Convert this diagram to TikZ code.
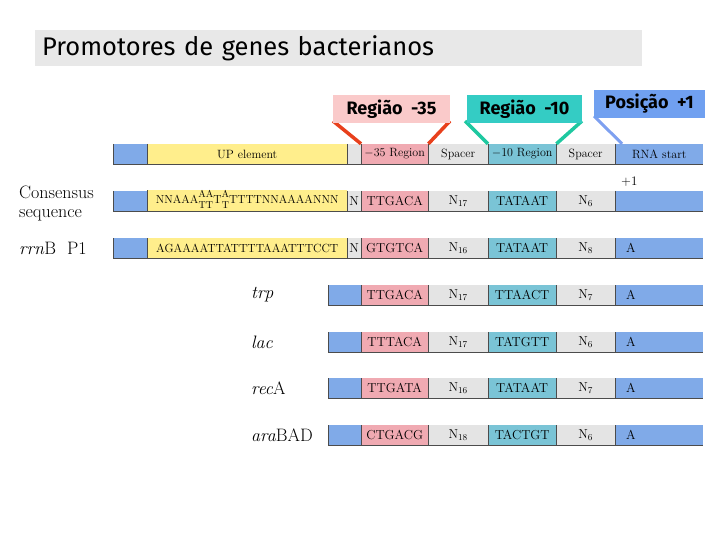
\documentclass[tikz,border=0pt]{standalone}
\usepackage{fontspec}
\newfontfamily\comicfont{Fira Sans}
\usetikzlibrary{positioning}
\definecolor{segblue}{RGB}{128,170,232}
\definecolor{segyellow}{RGB}{255,238,140}
\definecolor{segpink}{RGB}{240,170,178}
\definecolor{seggrey}{RGB}{228,228,228}
\definecolor{segteal}{RGB}{122,196,214}
\definecolor{boxpink}{RGB}{250,202,202}
\definecolor{boxteal}{RGB}{52,204,196}
\definecolor{boxblue}{RGB}{112,160,240}
\definecolor{linered}{RGB}{232,64,28}
\definecolor{lineteal}{RGB}{30,200,160}
\definecolor{lineblue}{RGB}{126,160,240}
\definecolor{titlegrey}{RGB}{232,232,232}
\newcommand{\stk}[2]{{\fontsize{10}{10.5}\selectfont\begin{tabular}[c]{@{}c@{}}#1\\#2\end{tabular}}}
\tikzset{
  seg/.style    = {rectangle, inner sep=0, minimum height=20pt, anchor=west, font=\fontsize{13}{14}\selectfont,
                   path picture={\draw[black!70, line width=0.6pt] (path picture bounding box.north west) -- (path picture bounding box.south west);}},
  sb/.style     = {seg, fill=segblue},  sy/.style = {seg, fill=segyellow}, sp/.style = {seg, fill=segpink},
  sg/.style     = {seg, fill=seggrey},  st/.style = {seg, fill=segteal},
  sa/.style     = {sb, text width=88pt, align=left},
  hd/.style     = {font=\fontsize{12}{13}\selectfont},
  base/.style   = {draw=black!70, line width=1pt},
  callout/.style= {rectangle, inner sep=0, minimum height=28pt, font=\comicfont\bfseries\fontsize{18}{20}\selectfont},
  lbl/.style    = {anchor=west, inner sep=0, font=\fontsize{18}{19}\selectfont, align=left},
  cline/.style  = {line width=3.5pt}
}
\begin{document}
\begin{tikzpicture}[x=1pt, y=-1pt]
  \useasboundingbox (0,0) rectangle (720,540);
  \node[fill=titlegrey, minimum width=607pt, minimum height=36pt, text width=593pt, inner xsep=7pt, inner ysep=0, align=left,
        font=\comicfont\fontsize{25.5}{27}\selectfont] (title) at (338.5,48) {Promotores de genes bacterianos};

  % header row
  \node[sb, minimum width=34pt] (hBlue) at (113,154) {};
  \node[sy, hd, minimum width=200pt] (hUP) at (147,154) {UP element};
  \node[sg, minimum width=14pt] (hN) at (347,154) {};
  \node[sp, hd, minimum width=67pt] (h35) at (361,154) {$-$35 Region};
  \node[sg, hd, minimum width=60pt] (hSp1) at (428,154) {Spacer};
  \node[st, hd, minimum width=68pt] (h10) at (488,154) {$-$10 Region};
  \node[sg, hd, minimum width=59pt] (hSp2) at (556,154) {Spacer};
  \node[sb, hd, minimum width=88pt] (hRNA) at (615,154) {RNA start};
  \draw[base] (hBlue.south west) -- (hRNA.south east);

  % callouts
  \draw[cline, linered]  (333,121) coordinate (r35a) -- (h35.north west);
  \draw[cline, linered]  (450,121) coordinate (r35b) -- (h35.north east);
  \draw[cline, lineteal] (465,121) coordinate (r10a) -- (h10.north west);
  \draw[cline, lineteal] (582,121) coordinate (r10b) -- (h10.north east);
  \draw[cline, lineblue, line width=3pt] (594,116) coordinate (rp1) -- ([xshift=7pt]hRNA.north west);
  \node[callout, fill=boxpink, minimum width=117pt] (R35) at (391.5,109) {Região\ \ -35};
  \node[callout, fill=boxteal, minimum width=115pt] (R10) at (524.5,109) {Região\ \ -10};
  \node[callout, fill=boxblue, minimum width=111pt] (P1) at (649.5,104) {Posição\ \ +1};

  % consensus
  \node[lbl] (cLab) at (19,203) {Consensus\\sequence};
  \node[sb, minimum width=34pt] (cBlue) at (113,201) {};
  \node[sy, minimum width=200pt, font=\fontsize{11.6}{12}\selectfont] (cUP) at (147,201) {NNAAA\stk{AA}{TT}T\stk{A}{T}TTTTNNAAAANNN};
  \node[sg, minimum width=14pt] (cN) at (347,201) {N};
  \node[sp, minimum width=67pt] (c35) at (361,201) {TTGACA};
  \node[sg, minimum width=60pt] (cSp1) at (428,201) {N$_{17}$};
  \node[st, minimum width=68pt] (c10) at (488,201) {TATAAT};
  \node[sg, minimum width=59pt] (cSp2) at (556,201) {N$_6$};
  \node[sb, minimum width=88pt] (cRNA) at (615,201) {};
  \node[lbl, font=\fontsize{13}{14}\selectfont] (cPlus) at (621,182) {+1};
  \draw[base] (cBlue.south west) -- (cRNA.south east);

  % rrnB P1
  \node[lbl] (rLab) at (19,248) {\textit{rrn}B\ \ P1};
  \node[sb, minimum width=34pt] (rBlue) at (113,248) {};
  \node[sy, minimum width=200pt, font=\fontsize{11.8}{12}\selectfont] (rUP) at (147,248) {AGAAAATTATTTTAAATTTCCT};
  \node[sg, minimum width=14pt] (rN) at (347,248) {N};
  \node[sp, minimum width=67pt] (r35) at (361,248) {GTGTCA};
  \node[sg, minimum width=60pt] (rSp1) at (428,248) {N$_{16}$};
  \node[st, minimum width=68pt] (r10) at (488,248) {TATAAT};
  \node[sg, minimum width=59pt] (rSp2) at (556,248) {N$_8$};
  \node[sa] (rRNA) at (615,248) {\hspace*{11pt}A};
  \draw[base] (rBlue.south west) -- (rRNA.south east);

  % trp
  \node[lbl] (tLab) at (251,295) {\textit{trp}};
  \node[sb, minimum width=33pt] (tBlue) at (328,295) {};
  \node[sp, minimum width=67pt] (t35) at (361,295) {TTGACA};
  \node[sg, minimum width=60pt] (tSp1) at (428,295) {N$_{17}$};
  \node[st, minimum width=68pt] (t10) at (488,295) {TTAACT};
  \node[sg, minimum width=59pt] (tSp2) at (556,295) {N$_7$};
  \node[sa] (tRNA) at (615,295) {\hspace*{11pt}A};
  \draw[base] (tBlue.south west) -- (tRNA.south east);

  % lac
  \node[lbl] (lLab) at (251,342) {\textit{lac}};
  \node[sb, minimum width=33pt] (lBlue) at (328,342) {};
  \node[sp, minimum width=67pt] (l35) at (361,342) {TTTACA};
  \node[sg, minimum width=60pt] (lSp1) at (428,342) {N$_{17}$};
  \node[st, minimum width=68pt] (l10) at (488,342) {TATGTT};
  \node[sg, minimum width=59pt] (lSp2) at (556,342) {N$_6$};
  \node[sa] (lRNA) at (615,342) {\hspace*{11pt}A};
  \draw[base] (lBlue.south west) -- (lRNA.south east);

  % recA
  \node[lbl] (aLab) at (251,388) {\textit{rec}A};
  \node[sb, minimum width=33pt] (aBlue) at (328,388) {};
  \node[sp, minimum width=67pt] (a35) at (361,388) {TTGATA};
  \node[sg, minimum width=60pt] (aSp1) at (428,388) {N$_{16}$};
  \node[st, minimum width=68pt] (a10) at (488,388) {TATAAT};
  \node[sg, minimum width=59pt] (aSp2) at (556,388) {N$_7$};
  \node[sa] (aRNA) at (615,388) {\hspace*{11pt}A};
  \draw[base] (aBlue.south west) -- (aRNA.south east);

  % araBAD
  \node[lbl] (gLab) at (251,435) {\textit{ara}BAD};
  \node[sb, minimum width=33pt] (gBlue) at (328,435) {};
  \node[sp, minimum width=67pt] (g35) at (361,435) {CTGACG};
  \node[sg, minimum width=60pt] (gSp1) at (428,435) {N$_{18}$};
  \node[st, minimum width=68pt] (g10) at (488,435) {TACTGT};
  \node[sg, minimum width=59pt] (gSp2) at (556,435) {N$_6$};
  \node[sa] (gRNA) at (615,435) {\hspace*{11pt}A};
  \draw[base] (gBlue.south west) -- (gRNA.south east);
\end{tikzpicture}
\end{document}
